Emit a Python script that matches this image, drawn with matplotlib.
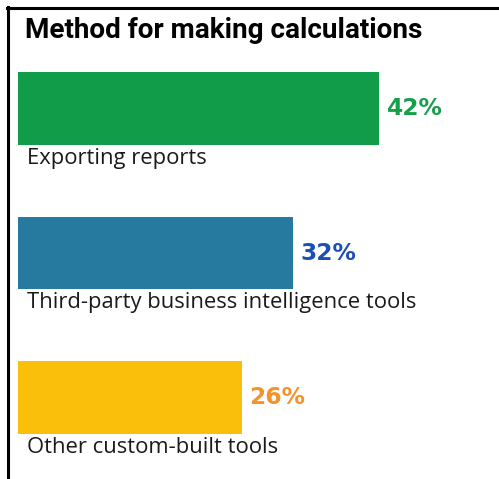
import matplotlib
matplotlib.use("Agg")
import matplotlib.pyplot as plt
from matplotlib.lines import Line2D

categories = ["Exporting reports", "Third-party business intelligence tools", "Other custom-built tools"]
values = [42, 32, 26]
bar_colors = ["#119C4A", "#26799F", "#F9BF0B"]
label_colors = ["#16A04A", "#1A4FB5", "#F5922A"]
title = "Method for making calculations"

W, H = 499, 479
fig = plt.figure(figsize=(W / 100, H / 100), dpi=100)
fig.patch.set_facecolor("white")

# axes spans full height; x origin at the bars' left edge
ax = fig.add_axes([18 / W, 0, 430 / W, 1])
ax.set_xlim(0, 50)
ax.set_ylim((H - 108.5) / 144.5, -108.5 / 144.5)
ax.axis("off")

ypos = list(range(len(categories)))
ax.barh(ypos, values, height=0.505, color=bar_colors)

for y, v, cat, lc in zip(ypos, values, categories, label_colors):
    ax.annotate(f"{v}%", (v, y), xytext=(5.5, 0), textcoords="offset points",
                va="center", ha="left", fontsize=16.8, fontweight="bold",
                color=lc, family="DejaVu Sans")
    ax.annotate(cat, (0, y + 0.2525), xytext=(6.5, -2), textcoords="offset points",
                va="top", ha="left", fontsize=15.8, color="#1a1a1a",
                family="Open Sans")

fig.text(25 / W, 1 - 31 / H, title, fontsize=20.1, fontweight="bold",
         family="Roboto", va="center", ha="left", color="black")

# frame: top and left rules
fig.add_artist(Line2D([7 / W, 1], [1 - 8 / H, 1 - 8 / H], color="black", lw=2.2,
                      transform=fig.transFigure))
fig.add_artist(Line2D([8 / W, 8 / W], [0, 1 - 7 / H], color="black", lw=2.2,
                      transform=fig.transFigure))

fig.savefig("out.png", dpi=100)
